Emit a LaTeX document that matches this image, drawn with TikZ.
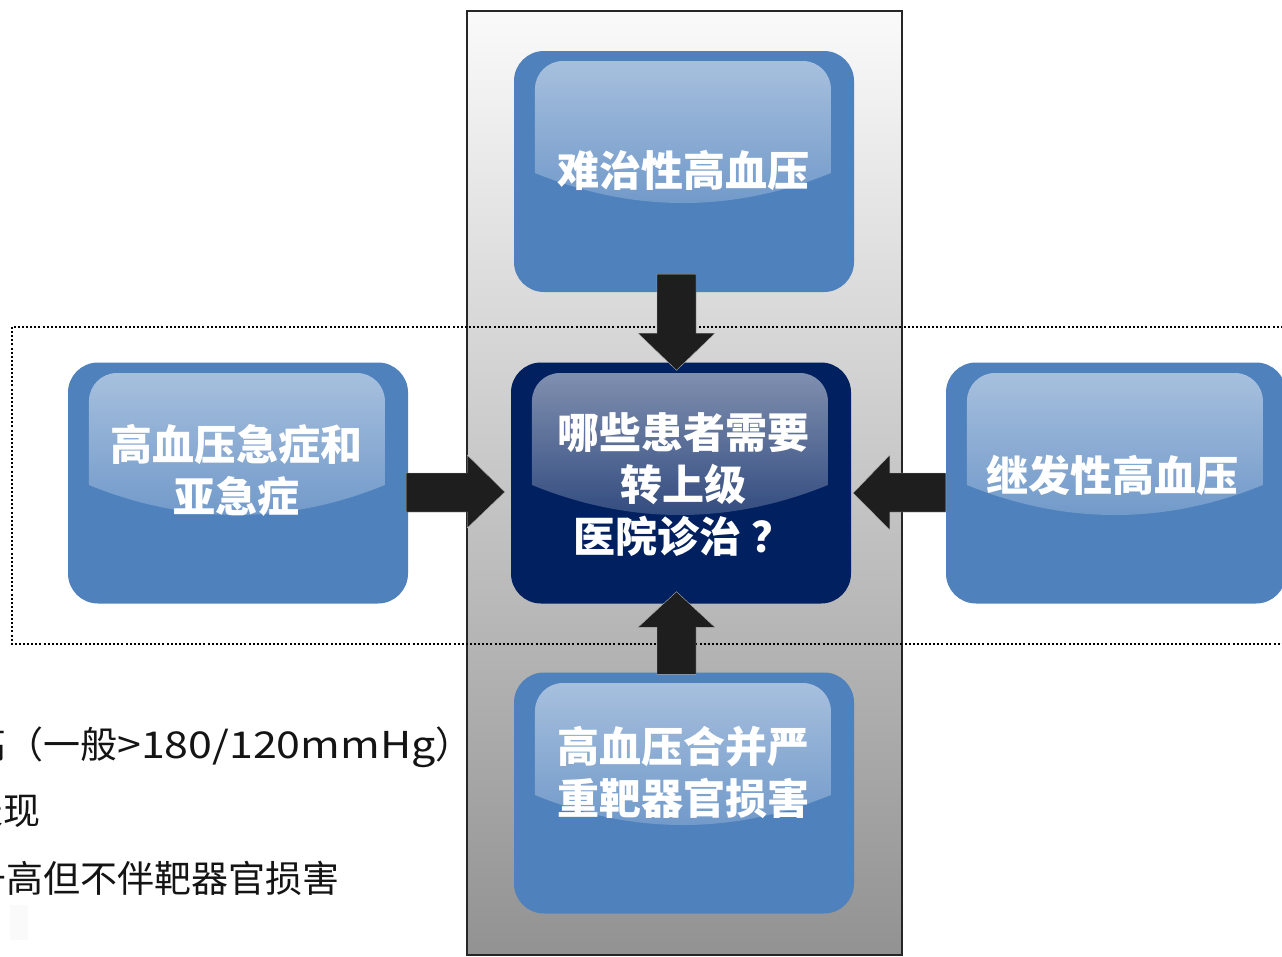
\documentclass[tikz,border=0pt]{standalone}
\usepackage{fontspec}
\newfontfamily\cjk{Noto Sans CJK SC}
\usetikzlibrary{calc,fadings}
\definecolor{boxblue}{HTML}{4F81BD}
\definecolor{navy}{HTML}{002060}
\definecolor{arrowc}{HTML}{1E1E1E}
\definecolor{colTop}{HTML}{FAFAFA}
\definecolor{colMid}{HTML}{D4D4D4}
\definecolor{colBot}{HTML}{929292}
\definecolor{frame}{HTML}{262626}
\tikzfading[name=glossfade, top color=transparent!50, bottom color=transparent!82]
\tikzset{
  box/.style={rectangle, rounded corners=30pt, minimum width=340pt, minimum height=241pt, inner sep=0pt, draw=none},
  boxtext/.style={text=white, font=\cjk\bfseries\fontsize{42}{52}\selectfont, align=center, inner sep=0pt},
  sidetext/.style={text=black!92, font=\cjk\fontsize{37}{44}\selectfont, inner sep=0pt, anchor=base west},
  arr/.style={fill=arrowc, draw=gray!60, line width=0.4pt},
}
% gloss: #1 = x0, #2 = y0, #3 = x1
\newcommand\glossover[3]{%
  \fill[white, path fading=glossfade]
    ({#1+21},{#2+122}) -- ({#1+21},{#2+38})
    arc[start angle=180, end angle=270, radius=28]
    -- ({#3-51},{#2+10})
    arc[start angle=270, end angle=360, radius=28]
    -- ({#3-23},{#2+122})
    .. controls ({#3-23-98},{#2+162}) and ({#1+21+98},{#2+162}) .. ({#1+21},{#2+122}) -- cycle;}
\begin{document}
\begin{tikzpicture}[x=1pt,y=-1pt]
\useasboundingbox (0,0) rectangle (1282,956);
\clip (0,0) rectangle (1282,956);
\fill[white] (0,0) rectangle (1282,956);
% central column
\shade[top color=colTop, middle color=colMid, bottom color=colBot] (467,11) rectangle (902,955);
\draw[frame, line width=2.5pt] (467,11) rectangle (902,955);
% dotted frame
\draw[black, line width=2.1pt, dash pattern=on 2pt off 2.1pt] (12,327) rectangle (1300,644);
% faint remnant
\fill[black!2] (10,905) rectangle (28,940);
% side texts (clipped at left)
\node[sidetext] (l1) at (6,758) {\llap{高血压急症：血压急剧升高}（一般\scalebox{1.16}[1]{>180/120mmHg}）};
\node[sidetext] (l2) at (3,824) {\llap{功能不全的表}现};
\node[sidetext] (l3) at (6,892) {\llap{血压显著升}高但不伴靶器官损害};
% boxes
\node[box, fill=boxblue] (top) at (684,171.5) {};
\node[box, fill=boxblue] (left) at (238,483) {};
\node[box, fill=navy] (center) at (681,483) {};
\node[box, fill=boxblue] (right) at (1116,483) {};
\node[box, fill=boxblue] (bottom) at (684,793) {};
% gloss
\glossover{514}{51}{854}
\glossover{68}{363}{408}
\glossover{511}{363}{851}
\glossover{946}{363}{1286}
\glossover{514}{673}{854}
% texts
\node[boxtext] (topT) at (683,170) {难治性高血压};
\node[boxtext] (leftT) at (236,470) {高血压急症和\\亚急症};
\node[boxtext] (centerT) at (683,485) {哪些患者需要\\转上级\\医院诊治\kern10pt？};
\node[boxtext] (rightT) at (1112,475) {继发性高血压};
\node[boxtext] (bottomT) at (683,772) {高血压合并严\\重靶器官损害};
% arrows
\draw[arr] ($(top.south)+(-27,-18)$) -- ++(39,0) -- ++(0,59) -- ++(19,0)
  -- ($(center.north)+(-4.5,8)$) -- ($(top.south)+(-46,41)$) -- ++(19,0) -- cycle;
\draw[arr] ($(bottom.north)+(-27,2)$) -- ++(39,0) -- ++(0,-47) -- ++(19,0)
  -- ($(center.south)+(-4.5,-12)$) -- ($(bottom.north)+(-46,-45)$) -- ++(19,0) -- cycle;
\draw[arr] ($(left.east)+(-2,-10)$) -- ++(61,0) -- ++(0,-18) -- ($(center.west)+(-6,9)$)
  -- ($(left.east)+(59,45)$) -- ++(0,-16) -- ++(-61,0) -- cycle;
\draw[arr] ($(right.west)+(0,-10)$) -- ++(-56,0) -- ++(0,-18) -- ($(center.east)+(2,10)$)
  -- ($(right.west)+(-56,47)$) -- ++(0,-18) -- ++(56,0) -- cycle;
\end{tikzpicture}
\end{document}
